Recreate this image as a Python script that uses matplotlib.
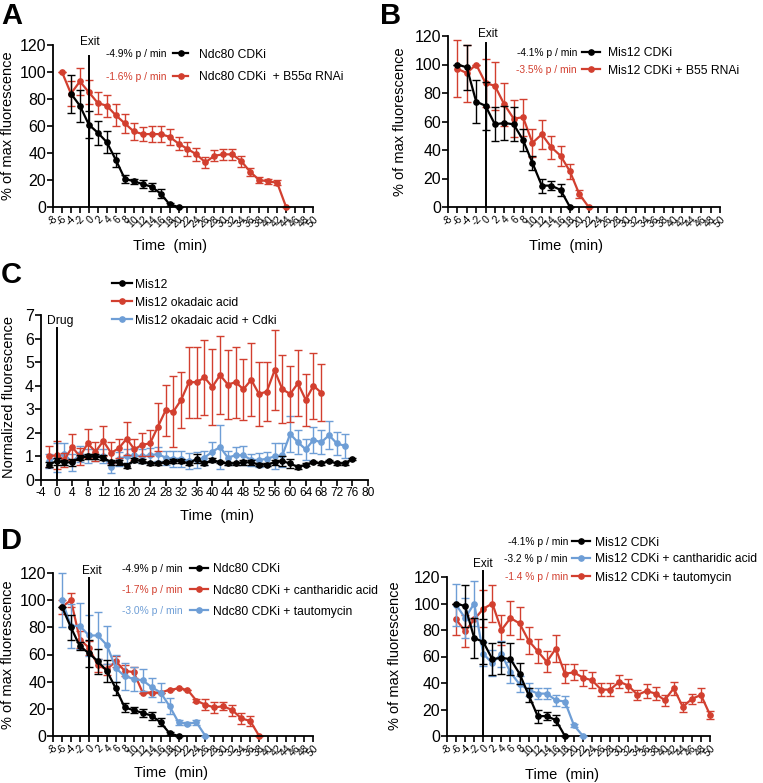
import matplotlib
matplotlib.use("Agg")
import matplotlib.pyplot as plt
from matplotlib.lines import Line2D

plt.rcParams['font.family'] = ['Liberation Sans', 'DejaVu Sans']
plt.rcParams['axes.unicode_minus'] = False

W, H = 763, 783

BLACK = '#000000'
RED = '#d23f2f'
BLUE = '#6e9ed6'

# ---- Panel A: Ndc80 CDKi vs + B55a RNAi ----
a_t_ctrl = [-4, -2, 0, 2, 4, 6, 8, 10, 12, 14, 16, 18, 20]
a_ctrl = [84, 75, 61, 55, 48, 35, 21, 19, 17, 15, 10, 2, 0]
a_ctrl_sd = [14, 12, 10, 9, 8, 5, 3, 2, 3, 3, 3, 1, 0]
a_t_rnai = [-6, -4, -2, 0, 2, 4, 6, 8, 10, 12, 14, 16, 18, 20, 22, 24, 26, 28,
            30, 32, 34, 36, 38, 40, 42, 44]
a_rnai = [100, 84, 93, 85, 77, 75, 68, 62, 56, 54, 54, 54, 52, 47, 43, 39, 33,
          38, 39, 39, 34, 26, 20, 19, 18, 0]
a_rnai_sd = [0, 9, 10, 9, 8, 8, 8, 7, 6, 5, 6, 6, 6, 5, 5, 5, 4, 4, 4, 4, 4, 3,
             2, 2, 2, 0]

# ---- Panel B: Mis12 CDKi vs + B55 RNAi ----
b_t_ctrl = [-6, -4, -2, 0, 2, 4, 6, 8, 10, 12, 14, 16, 18]
b_ctrl = [100, 98, 74, 71, 58, 59, 58, 47, 31, 15, 15, 12, 0]
b_ctrl_sd = [0, 16, 15, 17, 12, 12, 12, 8, 5, 5, 3, 4, 0]
b_t_rnai = [-6, -4, -2, 0, 2, 4, 6, 8, 10, 12, 14, 16, 18, 20, 22]
b_rnai = [97, 94, 100, 87, 85, 72, 62, 63, 45, 51, 42, 36, 25, 9, 0]
b_rnai_sd = [20, 20, 0, 17, 17, 15, 13, 13, 10, 10, 8, 7, 5, 3, 0]

# ---- Panel C: okadaic acid ----
c_t_ctrl = [-2, 0, 2, 4, 6, 8, 10, 12, 14, 16, 18, 20, 22, 24, 26, 28, 30, 32,
            34, 36, 38, 40, 42, 44, 46, 48, 50, 52, 54, 56, 58, 60, 62, 64, 66,
            68, 70, 72, 74, 76]
c_ctrl = [0.65, 0.8, 0.75, 0.75, 0.95, 1.0, 1.0, 0.95, 0.75, 0.75, 0.6, 0.85,
          0.8, 0.7, 0.7, 0.75, 0.8, 0.8, 0.7, 0.9, 0.7, 0.85, 0.75, 0.7, 0.7,
          0.75, 0.75, 0.65, 0.65, 0.75, 0.8, 0.7, 0.55, 0.65, 0.75, 0.7, 0.8,
          0.7, 0.7, 0.9]
c_ctrl_sd = [0.1, 0.15, 0.1, 0.15, 0.1, 0.1, 0.1, 0.1, 0.1, 0.1, 0.1, 0.1, 0.1,
             0.05, 0.05, 0.05, 0.1, 0.1, 0.05, 0.2, 0.05, 0.1, 0.05, 0.05, 0.05,
             0.1, 0.1, 0.05, 0.05, 0.1, 0.2, 0.2, 0.1, 0.05, 0.05, 0.05, 0.05,
             0.05, 0.05, 0.05]
c_t_oa = [-2, 0, 2, 4, 6, 8, 10, 12, 14, 16, 18, 20, 22, 24, 26, 28, 30, 32,
          34, 36, 38, 40, 42, 44, 46, 48, 50, 52, 54, 56, 58, 60, 62, 64, 66, 68]
c_oa = [1.0, 1.05, 0.85, 1.4, 1.0, 1.55, 1.2, 1.65, 1.15, 1.35, 1.75, 1.3, 1.5,
        1.55, 2.25, 2.95, 2.9, 3.4, 4.15, 4.15, 4.35, 3.95, 4.45, 4.05, 4.15,
        3.85, 4.25, 3.65, 3.75, 4.65, 3.85, 3.65, 4.1, 3.4, 4.0, 3.7]
c_oa_sd = [0.45, 0.6, 0.3, 0.55, 0.35, 0.6, 0.4, 0.65, 0.45, 0.4, 0.7, 0.45,
           0.5, 0.55, 1.0, 1.1, 1.5, 1.2, 1.5, 1.5, 1.6, 1.6, 1.65, 1.45, 1.5,
           1.3, 1.55, 1.35, 1.25, 1.7, 1.45, 1.2, 1.4, 1.1, 1.4, 1.2]
c_t_cdk = [-2, 0, 2, 4, 6, 8, 10, 12, 14, 16, 18, 20, 22, 24, 26, 28, 30, 32,
           34, 36, 38, 40, 42, 44, 46, 48, 50, 52, 54, 56, 58, 60, 62, 64, 66,
           68, 70, 72, 74]
c_cdk = [0.8, 0.95, 1.1, 0.75, 1.1, 1.0, 1.05, 1.0, 0.55, 0.9, 1.0, 1.05, 1.0,
         1.05, 1.1, 0.95, 0.9, 0.9, 0.8, 0.85, 0.95, 1.2, 1.4, 0.95, 1.05, 1.05,
         0.85, 0.85, 0.9, 1.0, 1.05, 1.95, 1.6, 1.3, 1.7, 1.6, 1.9, 1.55, 1.45]
c_cdk_sd = [0.3, 0.6, 0.45, 0.35, 0.35, 0.3, 0.25, 0.3, 0.25, 0.3, 0.3, 0.3,
            0.3, 0.3, 0.3, 0.3, 0.35, 0.35, 0.35, 0.35, 0.3, 0.4, 0.95, 0.3,
            0.35, 0.4, 0.25, 0.3, 0.3, 0.55, 0.5, 0.75, 0.5, 0.45, 0.55, 0.5,
            0.6, 0.5, 0.5]

# ---- Panel D left: Ndc80 CDKi + phosphatase inhibitors ----
dl_t_ctrl = [-6, -4, -2, 0, 2, 4, 6, 8, 10, 12, 14, 16, 18, 20]
dl_ctrl = [95, 80, 66, 61, 55, 48, 35, 21, 19, 17, 15, 10, 2, 0]
dl_ctrl_sd = [0, 9, 3, 10, 9, 8, 5, 3, 2, 3, 3, 3, 1, 0]
dl_t_canth = [-6, -4, -2, 0, 2, 4, 6, 8, 10, 12, 14, 16, 18, 20, 22, 24, 26,
              28, 30, 32, 34, 36, 38]
dl_canth = [95, 100, 71, 65, 52, 49, 55, 48, 47, 32, 32, 32, 34, 35, 34, 26, 23,
            21, 22, 19, 13, 11, 0]
dl_canth_sd = [5, 5, 6, 5, 5, 4, 4, 4, 4, 0, 0, 0, 0, 0, 0, 1, 4, 4, 3, 4, 4,
               4, 0]
dl_t_tauto = [-6, -4, -2, 0, 2, 4, 6, 8, 10, 12, 14, 16, 18, 20, 22, 24, 26]
dl_tauto = [100, 81, 81, 74, 74, 67, 50, 44, 42, 41, 36, 32, 22, 10, 9, 10, 0]
dl_tauto_sd = [20, 16, 17, 15, 17, 14, 10, 10, 9, 8, 7, 7, 6, 2, 1, 2, 0]

# ---- Panel D right: Mis12 CDKi + phosphatase inhibitors ----
dr_t_canth = [-6, -4, -2, 0, 2, 4, 6, 8, 10, 12, 14, 16, 18, 20, 22]
dr_canth = [99, 89, 100, 62, 55, 62, 48, 39, 35, 32, 32, 27, 26, 8, 0]
dr_canth_sd = [16, 15, 17, 9, 10, 10, 8, 6, 5, 4, 4, 4, 4, 1, 0]
dr_t_tauto = [-6, -4, -2, 0, 2, 4, 6, 8, 10, 12, 14, 16, 18, 20, 22, 24, 26,
              28, 30, 32, 34, 36, 38, 40, 42, 44, 46, 48, 50]
dr_tauto = [88, 79, 88, 96, 100, 80, 89, 85, 72, 64, 56, 66, 47, 48, 44, 42, 35,
            35, 41, 38, 31, 34, 32, 27, 36, 22, 28, 31, 16]
dr_tauto_sd = [12, 12, 0, 14, 14, 11, 13, 12, 10, 9, 8, 10, 7, 6, 6, 6, 5, 5, 5,
               5, 4, 5, 5, 4, 5, 4, 4, 5, 3]

x_ticks_exit = [-8, -6, -4, -2, 0, 2, 4, 6, 8, 10, 12, 14, 16, 18, 20, 22, 24,
                26, 28, 30, 32, 34, 36, 38, 40, 42, 44, 46, 48, 50]
x_ticks_drug = [-4, 0, 4, 8, 12, 16, 20, 24, 28, 32, 36, 40, 44, 48, 52, 56, 60,
                64, 68, 72, 76, 80]
y_ticks_pct = [0, 20, 40, 60, 80, 100, 120]
y_ticks_norm = [0, 1, 2, 3, 4, 5, 6, 7]


def px_rect(l, t, r, b):
    return [l / W, 1 - b / H, (r - l) / W, (b - t) / H]


def style_axes(ax):
    for side in ['top', 'right']:
        ax.spines[side].set_visible(False)
    for side in ['left', 'bottom']:
        ax.spines[side].set_linewidth(1.3)
    ax.tick_params(direction='out', length=4, width=1.2, labelsize=11.5, pad=1)


def series(ax, t, y, sd, color, z=2):
    ax.errorbar(t, y, yerr=sd, color=color, marker='o', ms=3.8, lw=1.6,
                elinewidth=1.0, capsize=2.6, capthick=1.0, zorder=z,
                clip_on=False)


def label_at(ax, box, xlab_pos, ylab_pos, ylabel):
    l, t, r, b = box
    ax.set_xlabel('Time  (min)', fontsize=10.5)
    ax.xaxis.set_label_coords((xlab_pos[0] - l) / (r - l), (b - xlab_pos[1]) / (b - t))
    ax.xaxis.label.set_va('center')
    ax.set_ylabel(ylabel, fontsize=10.5)
    ax.yaxis.set_label_coords((ylab_pos[0] - l) / (r - l), (b - ylab_pos[1]) / (b - t))
    ax.yaxis.label.set_va('center')


def exit_axes(fig, box):
    ax = fig.add_axes(px_rect(*box))
    style_axes(ax)
    ax.set_xlim(-8, 50)
    ax.set_ylim(0, 120)
    ax.set_xticks(x_ticks_exit)
    ax.set_xticklabels([str(v) for v in x_ticks_exit], rotation=45, ha='right',
                       rotation_mode='anchor', fontsize=7.6)
    ax.set_yticks(y_ticks_pct)
    return ax


def legend_row(fig, y, rate, rate_color, x_rate, x_h0, x_h1, x_lab, label, color):
    yf = 1 - y / H
    if rate:
        fig.text(x_rate / W, yf, rate, ha='right', va='center_baseline',
                 fontsize=7.4, color=rate_color)
    fig.add_artist(Line2D([x_h0 / W, (x_h0 + x_h1) / 2 / W, x_h1 / W], [yf] * 3,
                          color=color, lw=1.6, marker='o', ms=3.8, markevery=[1]))
    fig.text(x_lab / W, yf, label, ha='left', va='center_baseline', fontsize=8.7)


def px_text(fig, x, y, s, **kw):
    fig.text(x / W, 1 - y / H, s, **kw)


fig = plt.figure(figsize=(W / 100, H / 100), dpi=100)
ylab = '% of max fluorescence'

# A
box_a = (53, 45, 313, 207)
ax = exit_axes(fig, box_a)
series(ax, a_t_rnai, a_rnai, a_rnai_sd, RED)
series(ax, a_t_ctrl, a_ctrl, a_ctrl_sd, BLACK, 3)
ax.axvline(0, ymax=0.93, color='black', lw=1.4, zorder=4)
label_at(ax, box_a, (170, 246), (8, 126), ylab)
px_text(fig, 90, 42, 'Exit', ha='center', va='center', fontsize=8.5)
legend_row(fig, 53, '-4.9% p / min', BLACK, 167, 173, 188, 199, 'Ndc80 CDKi', BLACK)
legend_row(fig, 76, '-1.6% p / min', RED, 167, 173, 188, 199,
           'Ndc80 CDKi  + B55\u03b1 RNAi', RED)
px_text(fig, 1, 2, 'A', ha='left', va='top', fontsize=21, weight='bold')

# B
box_b = (448, 36, 720, 207)
ax = exit_axes(fig, box_b)
series(ax, b_t_rnai, b_rnai, b_rnai_sd, RED)
series(ax, b_t_ctrl, b_ctrl, b_ctrl_sd, BLACK, 3)
ax.axvline(0, ymax=0.96, color='black', lw=1.4, zorder=4)
label_at(ax, box_b, (566, 246), (400, 122), ylab)
px_text(fig, 488, 34, 'Exit', ha='center', va='center', fontsize=8.5)
legend_row(fig, 52, '-4.1% p / min', BLACK, 577, 582, 600, 608, 'Mis12 CDKi', BLACK)
legend_row(fig, 69, '-3.5% p / min', RED, 577, 582, 600, 608,
           'Mis12 CDKi + B55 RNAi', RED)
px_text(fig, 380, 2, 'B', ha='left', va='top', fontsize=21, weight='bold')

# C
box_c = (41, 315, 368, 480)
ax = fig.add_axes(px_rect(*box_c))
style_axes(ax)
ax.set_xlim(-4, 80)
ax.set_ylim(0, 7)
ax.set_xticks(x_ticks_drug)
ax.set_xticklabels([str(v) for v in x_ticks_drug], fontsize=8.6)
ax.set_yticks(y_ticks_norm)
series(ax, c_t_cdk, c_cdk, c_cdk_sd, BLUE, 2)
series(ax, c_t_oa, c_oa, c_oa_sd, RED, 3)
series(ax, c_t_ctrl, c_ctrl, c_ctrl_sd, BLACK, 4)
ax.axvline(0, ymax=0.92, color='black', lw=1.4, zorder=5)
label_at(ax, box_c, (217, 516), (9, 397), 'Normalized fluorescence')
px_text(fig, 60, 321, 'Drug', ha='center', va='center', fontsize=8.7)
legend_row(fig, 283, '', BLACK, 0, 112, 132, 135, 'Mis12', BLACK)
legend_row(fig, 301, '', RED, 0, 112, 132, 135, 'Mis12 okadaic acid', RED)
legend_row(fig, 319, '', BLUE, 0, 112, 132, 135, 'Mis12 okadaic acid + Cdki', BLUE)
px_text(fig, 1, 261, 'C', ha='left', va='top', fontsize=21, weight='bold')

# D left
box_dl = (53, 573, 313, 736)
ax = exit_axes(fig, box_dl)
series(ax, dl_t_canth, dl_canth, dl_canth_sd, RED, 2)
series(ax, dl_t_tauto, dl_tauto, dl_tauto_sd, BLUE, 3)
series(ax, dl_t_ctrl, dl_ctrl, dl_ctrl_sd, BLACK, 4)
ax.axvline(0, ymax=0.97, color='black', lw=1.4, zorder=5)
label_at(ax, box_dl, (171, 773), (8, 655), ylab)
px_text(fig, 92, 571, 'Exit', ha='center', va='center', fontsize=8.5)
legend_row(fig, 568, '-4.9% p / min', BLACK, 183, 190, 208, 213, 'Ndc80 CDKi', BLACK)
legend_row(fig, 589, '-1.7% p / min', RED, 183, 190, 208, 213,
           'Ndc80 CDKi + cantharidic acid', RED)
legend_row(fig, 610, '-3.0% p / min', BLUE, 183, 190, 208, 213,
           'Ndc80 CDKi + tautomycin', BLUE)
px_text(fig, 1, 527, 'D', ha='left', va='top', fontsize=21, weight='bold')

# D right
box_dr = (447, 577, 710, 736)
ax = exit_axes(fig, box_dr)
series(ax, dr_t_tauto, dr_tauto, dr_tauto_sd, RED, 2)
series(ax, dr_t_canth, dr_canth, dr_canth_sd, BLUE, 3)
series(ax, b_t_ctrl, b_ctrl, b_ctrl_sd, BLACK, 4)
ax.axvline(0, ymax=1.04, color='black', lw=1.4, zorder=5, clip_on=False)
label_at(ax, box_dr, (562, 775), (395, 656), ylab)
px_text(fig, 483, 564, 'Exit', ha='center', va='center', fontsize=8.5)
legend_row(fig, 541, '-4.1% p / min', BLACK, 568, 572, 590, 595, 'Mis12 CDKi', BLACK)
legend_row(fig, 558, '-3.2 % p / min', BLACK, 568, 572, 590, 595,
           'Mis12 CDKi + cantharidic acid', BLUE)
legend_row(fig, 576, '-1.4 % p / min', RED, 568, 572, 590, 595,
           'Mis12 CDKi + tautomycin', RED)

fig.savefig('out.png', dpi=100)
